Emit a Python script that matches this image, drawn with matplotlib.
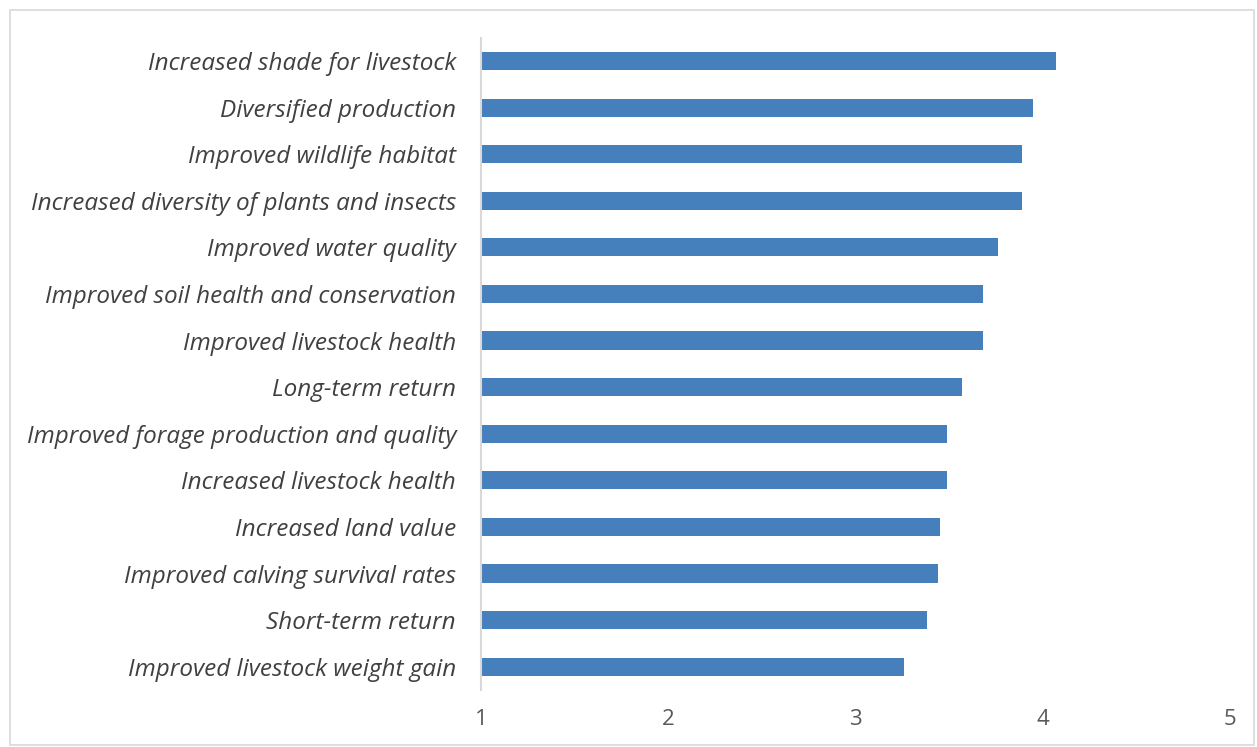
import matplotlib.pyplot as plt
from matplotlib.patches import Rectangle

# categories listed top to bottom as in the chart
labels = [
    "Increased shade for livestock",
    "Diversified production",
    "Improved wildlife habitat",
    "Increased diversity of plants and insects",
    "Improved water quality",
    "Improved soil health and conservation",
    "Improved livestock health",
    "Long-term return",
    "Improved forage production and quality",
    "Increased livestock health",
    "Increased land value",
    "Improved calving survival rates",
    "Short-term return",
    "Improved livestock weight gain",
]
scores = [4.07, 3.95, 3.89, 3.89, 3.76, 3.68, 3.68, 3.57, 3.49, 3.49, 3.45, 3.44, 3.38, 3.26]
xticks = [1, 2, 3, 4, 5]

plt.rcParams['font.family'] = ['Open Sans', 'DejaVu Sans']

fig = plt.figure(figsize=(12.57, 7.47), dpi=100)
ax = fig.add_axes([0.3827, 0.0763, 0.5959, 0.8732])

# reverse so first label ends up on top
ypos = list(range(len(labels)))[::-1]
ax.barh(ypos, [s - 1 for s in scores], left=1, height=0.39, color='#4580bc')

ax.set_xlim(1, 5)
ax.set_ylim(-0.5, len(labels) - 0.5)
ax.set_yticks(ypos)
ax.set_yticklabels(labels, fontsize=17.5, style='italic', color='#404040')
ax.set_xticks(xticks)
ax.set_xticklabels([str(t) for t in xticks], fontsize=16, color='#595959')
ax.tick_params(axis='both', length=0)
ax.tick_params(axis='y', pad=18)
ax.tick_params(axis='x', pad=14)

for side in ['top', 'right', 'bottom']:
    ax.spines[side].set_visible(False)
ax.spines['left'].set_color('#d9d9d9')
ax.spines['left'].set_linewidth(1.5)

# light border around the chart area
fig.patches.append(Rectangle((0.008, 0.003), 0.99, 0.983, transform=fig.transFigure,
                             fill=False, edgecolor='#d9d9d9', linewidth=1.2))

fig.savefig('out.png', dpi=100)
